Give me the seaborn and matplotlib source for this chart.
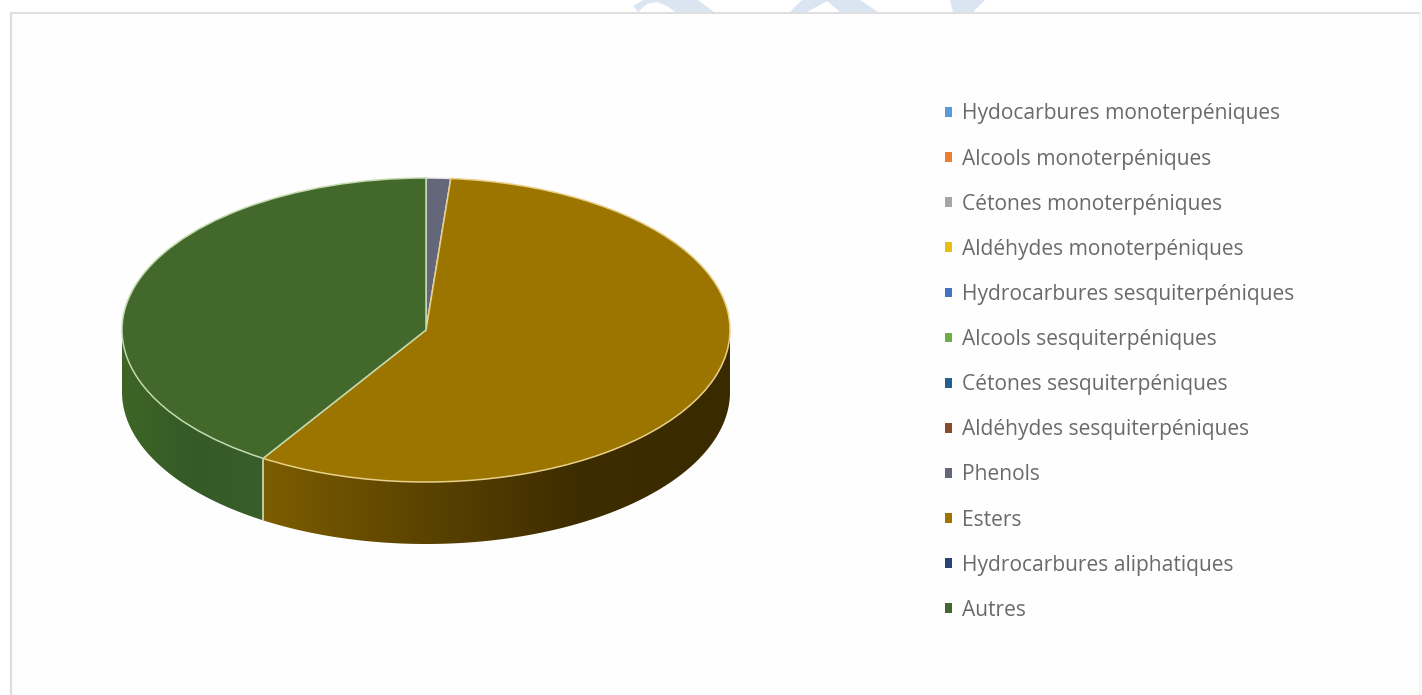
import numpy as np
import pandas as pd
import seaborn as sns
import matplotlib.pyplot as plt
from matplotlib.colors import LinearSegmentedColormap
from matplotlib.patches import Polygon, Rectangle

# familles chimiques et pourcentages
familles = ["Hydocarbures monoterpéniques", "Alcools monoterpéniques", "Cétones monoterpéniques",
            "Aldéhydes monoterpéniques", "Hydrocarbures sesquiterpéniques", "Alcools sesquiterpéniques",
            "Cétones sesquiterpéniques", "Aldéhydes sesquiterpéniques", "Phenols", "Esters",
            "Hydrocarbures aliphatiques", "Autres"]
pourcentages = [0, 0, 0, 0, 0, 0, 0, 0, 1.3, 57.7, 0, 41.0]
couleurs = ["#5B9BD5", "#ED7D31", "#A5A5A5", "#E8BE10", "#4472C4", "#70AD47",
            "#255E91", "#8A4A2E", "#64667A", "#9C7500", "#264478", "#43682B"]
bords = {"Esters": "#E8D08A", "Autres": "#C4DAAE", "Phenols": "#E6E6E6"}

df = pd.DataFrame({"famille": familles, "pct": pourcentages})

# geometrie en pixels de l'image
W, H = 1422, 695
CX, CY, RX, RY, DEPTH = 426, 330, 304, 152, 62

sns.set_theme(style="white")
plt.rcParams["font.family"] = ["Open Sans", "DejaVu Sans"]

fig = plt.figure(figsize=(W / 100, H / 100), dpi=100, facecolor="white")
ax = fig.add_axes([0, 0, 1, 1])
palette = sns.color_palette(couleurs)

wedges, _ = ax.pie(df["pct"], colors=palette, startangle=90, counterclock=False, radius=1,
                   wedgeprops={"linewidth": 1.1, "zorder": 5})
for w, nom in zip(wedges, familles):
    w.set_edgecolor(bords.get(nom, "none"))
ax.set_aspect("auto")
ax.set_axis_on()
ax.set_xticks([])
ax.set_yticks([])
for s in ax.spines.values():
    s.set_visible(False)

xlim = (-CX / RX, (W - CX) / RX)
ylim = ((CY - H) / RY, CY / RY)
depth = DEPTH / RY


def px(x, y):
    return (x - CX) / RX, (CY - y) / RY


# cadre du graphique : net a gauche et en haut, presque invisible a droite
x0, y0 = px(10.5, 12.5)
x1, y1 = px(1420, 700)
ax.add_patch(Rectangle((x0, y0), x1 - x0, y1 - y0, facecolor="#FEFEFE", edgecolor="none", zorder=1))
ax.plot([x0, x0], [y1, y0], color="#DDDDDD", lw=1.5, zorder=1.5)
ax.plot([x0, x1], [y0, y0], color="#DFDFDF", lw=1.5, zorder=1.5)
ax.plot([x1, x1], [y1, y0], color="#F4F4F4", lw=1.2, zorder=1.5)

# filigrane visible au dessus du cadre
filigrane = [[(633, 6), (643, 0), (698, 0), (714, 12), (675, 12), (667, 6), (657, 2), (647, 4), (638, 12)],
             [(790, 12), (802, 0), (860, 0), (878, 12), (840, 12), (827, 1), (807, 12)],
             [(950, 0), (953, 12), (973, 12), (985, 0)]]
for forme in filigrane:
    ax.add_patch(Polygon([px(*p) for p in forme], facecolor="#DBE5F1", edgecolor="none", zorder=1))

# paroi du camembert : partie avant de chaque part, degrade horizontal
degrades = {"Esters": ["#7C5D00", "#5C4400", "#3E2D00", "#3A2A00"],
            "Autres": ["#3E6526", "#355A27", "#3A5E2A"]}
cumul = df["pct"].iloc[:familles.index("Esters") + 1].sum() / df["pct"].sum()
bord_esters = 90 - 360 * cumul
limites = {"Esters": (bord_esters, 0), "Autres": (-180, bord_esters)}
for nom, (debut, fin) in limites.items():
    t = np.radians(np.linspace(debut, fin, 200))
    haut = np.column_stack([np.cos(t), np.sin(t)])
    bas = haut[::-1] - [0, depth]
    poly = Polygon(np.vstack([haut, bas]), facecolor="none", edgecolor="none")
    ax.add_patch(poly)
    cmap = LinearSegmentedColormap.from_list(nom, degrades[nom])
    xg = np.linspace(0, 1, 256)[None, :]
    im = ax.imshow(xg, cmap=cmap, aspect="auto", zorder=2,
                   extent=(haut[:, 0].min(), haut[:, 0].max(), -1 - depth, 0))
    im.set_clip_path(poly)

# filet vertical entre les deux parts
bx, by = np.cos(np.radians(bord_esters)), np.sin(np.radians(bord_esters))
ax.plot([bx, bx], [by, by - depth], color="#DCE4C8", lw=1.1, zorder=4)

ax.set_xlim(xlim)
ax.set_ylim(ylim)

leg = fig.legend(wedges, familles, loc="upper left", bbox_to_anchor=(945 / W, 1 - 103.5 / H),
                 bbox_transform=fig.transFigure, frameon=False, fontsize=15.1, labelcolor="#6A6A6A",
                 handlelength=0.34, handleheight=0.34, handletextpad=0.48, labelspacing=1.15,
                 borderpad=0, borderaxespad=0)
for h, c in zip(leg.get_patches(), palette):
    h.set_edgecolor("none")
    h.set_facecolor(c)

fig.savefig("out.png", dpi=100)
